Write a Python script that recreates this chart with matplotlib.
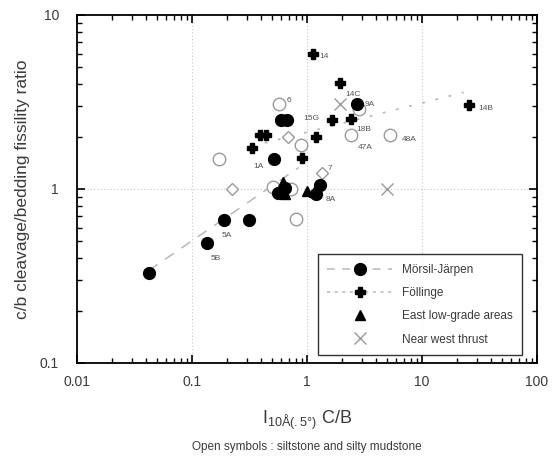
import matplotlib
matplotlib.use("Agg")
import matplotlib.pyplot as plt
from matplotlib.lines import Line2D

plt.rcParams['font.family'] = ['Liberation Sans', 'DejaVu Sans']

# ---- data ----
morsil_x = [0.042, 0.134, 0.19, 0.31, 0.52, 0.60, 0.67, 0.56, 0.65, 1.30, 1.20, 2.7]
morsil_y = [0.33, 0.49, 0.66, 0.66, 1.48, 2.5, 2.5, 0.95, 1.02, 1.05, 0.94, 3.06]
morsil_open_x = [0.575, 0.173, 0.88, 0.51, 0.72, 0.80, 2.4, 5.3, 2.85]
morsil_open_y = [3.06, 1.48, 1.78, 1.03, 1.00, 0.67, 2.03, 2.03, 2.9]

follinge_x = [1.12, 1.92, 1.66, 2.4, 1.19, 0.39, 0.44, 0.33, 0.91, 25.5]
follinge_y = [6.0, 4.04, 2.5, 2.54, 2.0, 2.03, 2.03, 1.73, 1.5, 3.02]
follinge_open_x = [0.68, 0.224, 1.36]
follinge_open_y = [2.0, 1.0, 1.24]

east_x = [0.62, 0.65, 1.0, 1.15]
east_y = [1.10, 0.93, 0.98, 0.96]

west_x = [1.92, 4.97]
west_y = [3.1, 1.0]

# regression lines (end points)
morsil_fit_x = [0.042, 0.85]
morsil_fit_y = [0.34, 1.33]
follinge_fit_x = [0.33, 23.0]
follinge_fit_y = [1.76, 3.59]

# sample labels: text, x, y
label_text = ['14', '14C', '9A', '15G', '18B', '47A', '48A', '14B', '6', '1A', '7', '8A', '5A', '5B']
label_x = [1.12, 1.92, 2.7, 1.66, 2.4, 2.4, 5.3, 25.5, 0.575, 0.52, 1.36, 1.30, 0.19, 0.134]
label_y = [6.0, 4.04, 3.06, 2.5, 2.54, 2.03, 2.03, 3.02, 3.06, 1.48, 1.24, 1.05, 0.66, 0.49]
# offsets in points (style)
label_off = [(5, -2), (4, -8), (6, 0), (-21, 1), (4, -8), (5, -9), (8, -3), (7, -2), (5, 3),
             (-15, -5), (4, 3), (4, -10), (-2, -11), (3, -11)]

xticks = [0.01, 0.1, 1, 10, 100]
xticklabels = ['0.01', '0.1', '1', '10', '100']
yticks = [0.1, 1, 10]
yticklabels = ['0.1', '1', '10']

# ---- figure ----
fig = plt.figure(figsize=(5.52, 4.58), dpi=100)
ax = fig.add_axes([77/552, 1-363/458, 460/552, 348/458])
ax.set_xscale('log')
ax.set_yscale('log')
ax.set_xlim(0.01, 100)
ax.set_ylim(0.1, 10)

gray = '#9a9a9a'
linegray = '#b8b8b8'
textc = '#3a3a3a'

# grid lines at decades
for gx in [0.1, 1, 10]:
    ax.axvline(gx, color='#c8c8c8', lw=0.8, ls=(0, (1, 2)), zorder=0)
ax.axhline(1, color='#c8c8c8', lw=0.8, ls=(0, (1, 2)), zorder=0)

# fit lines
ax.plot(morsil_fit_x, morsil_fit_y, color=linegray, lw=1.1, ls=(0, (7, 6)), zorder=1)
ax.plot(follinge_fit_x, follinge_fit_y, color=linegray, lw=1.3, ls=(0, (1.5, 6)), zorder=1)

# points
ax.plot(morsil_open_x, morsil_open_y, 'o', ms=9, mfc='white', mec=gray, mew=1.0, ls='none', zorder=2)
ax.plot(follinge_open_x, follinge_open_y, 'D', ms=6, mfc='white', mec=gray, mew=1.0, ls='none', zorder=2)
ax.plot(west_x, west_y, 'x', ms=9, mec=gray, mew=1.0, ls='none', zorder=2)
ax.plot(east_x, east_y, '^', ms=7.5, color='black', ls='none', zorder=3)
ax.plot(morsil_x, morsil_y, 'o', ms=8.5, color='black', ls='none', zorder=3)
ax.plot(follinge_x, follinge_y, 'P', ms=7.5, color='black', ls='none', zorder=3)

for t, x, y, off in zip(label_text, label_x, label_y, label_off):
    ax.annotate(t, (x, y), xytext=off, textcoords='offset points',
                fontsize=6, color='#555555', ha='left', va='center')

# ticks
ax.set_xticks(xticks)
ax.set_xticklabels(xticklabels)
ax.set_yticks(yticks)
ax.set_yticklabels(yticklabels)
ax.tick_params(which='both', direction='in', top=True, right=True, labelsize=10,
               labelcolor=textc)
ax.tick_params(which='major', length=6, width=1.2)
ax.tick_params(axis='x', which='major', pad=9)
ax.tick_params(axis='y', which='major', pad=13)
ax.tick_params(which='minor', length=3.5, width=1.0)
for s in ax.spines.values():
    s.set_linewidth(1.3)

ax.set_ylabel('c/b cleavage/bedding fissility ratio', fontsize=12.5, color=textc)
ax.yaxis.set_label_coords((30 - 77) / 460, 0.5)
ax.set_xlabel('$\\mathregular{I_{10Å(.5°)}}$ C/B', fontsize=13, color=textc, va='center')
ax.xaxis.set_label_coords(0.5, (363 - 420) / 348)
fig.text((77 + 460 / 2) / 552, 1 - 447 / 458,
         'Open symbols : siltstone and silty mudstone', fontsize=8.5, color=textc,
         ha='center', va='center')

handles = [
    Line2D([], [], color=linegray, ls=(0, (5, 5)), lw=1.1, marker='o', ms=8.5,
           mfc='black', mec='black'),
    Line2D([], [], color=linegray, ls=(0, (2, 3)), lw=1.1, marker='P', ms=7.5,
           mfc='black', mec='black'),
    Line2D([], [], ls='none', marker='^', ms=7.5, color='black'),
    Line2D([], [], ls='none', marker='x', ms=9, mec=gray, mew=1.0),
]
labels = ['Mörsil-Järpen', 'Föllinge', 'East low-grade areas', 'Near west thrust']
leg = ax.legend(handles, labels, loc='lower right', bbox_to_anchor=(0.967, 0.023),
                fontsize=8.5, frameon=True, fancybox=False, edgecolor='black',
                handlelength=5.5, labelspacing=0.95, borderpad=0.8, handletextpad=0.8,
                borderaxespad=0)
leg.get_frame().set_linewidth(1.0)
for t in leg.get_texts():
    t.set_color(textc)

fig.savefig('out.png', dpi=100)
